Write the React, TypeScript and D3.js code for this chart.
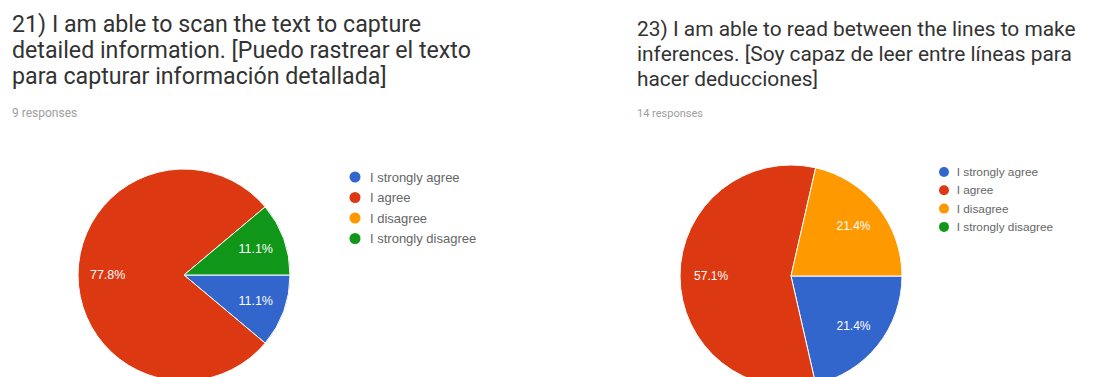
import React from "react";
import * as d3 from "d3";

const categories = ["I strongly agree", "I agree", "I disagree", "I strongly disagree"];
const colors = ["#3366cc", "#dc3912", "#ff9900", "#109618"];

const q21Title = [
  "21) I am able to scan the text to capture",
  "detailed information. [Puedo rastrear el texto",
  "para capturar información detallada]",
];
const q21Responses = "9 responses";
const q21Values = [1, 7, 0, 1];

const q23Title = [
  "23) I am able to read between the lines to make",
  "inferences. [Soy capaz de leer entre líneas para",
  "hacer deducciones]",
];
const q23Responses = "14 responses";
const q23Values = [3, 8, 3, 0];

type PanelProps = {
  title: string[];
  responses: string;
  values: number[];
  tx: number;
  ty: number;
  tfont: number;
  lineH: number;
  respY: number;
  rfont: number;
  cx: number;
  cy: number;
  r: number;
  pfont: number;
  lx: number;
  ly: number;
  lstep: number;
  lfont: number;
  lgap: number;
  lr: number;
};

function Panel(p: PanelProps) {
  const total = d3.sum(p.values);
  const pie = d3
    .pie<number>()
    .sort(null)
    .value((d) => d)
    .startAngle(Math.PI / 2)
    .endAngle(Math.PI / 2 + 2 * Math.PI);
  const arcs = pie(p.values);
  const arc = d3.arc<d3.PieArcDatum<number>>().innerRadius(0).outerRadius(p.r);
  const labelArc = d3
    .arc<d3.PieArcDatum<number>>()
    .innerRadius(p.r * 0.72)
    .outerRadius(p.r * 0.72);
  const fmt = d3.format(".1f");
  return (
    <g>
      {p.title.map((t, i) => (
        <text
          key={i}
          x={p.tx}
          y={p.ty + i * p.lineH}
          fontFamily="Roboto, Arial, sans-serif"
          fontSize={p.tfont}
          fill="#333"
        >
          {t}
        </text>
      ))}
      <text x={p.tx} y={p.respY} fontFamily="Roboto, Arial, sans-serif" fontSize={p.rfont} fill="#9e9e9e">
        {p.responses}
      </text>
      <g transform={`translate(${p.cx},${p.cy})`}>
        {arcs.map((a, i) =>
          a.value > 0 ? (
            <path key={i} d={arc(a) as string} fill={colors[i]} stroke="#fff" strokeWidth={1} />
          ) : null
        )}
        {arcs.map((a, i) => {
          if (a.value <= 0) return null;
          const [x, y] = labelArc.centroid(a);
          return (
            <text
              key={"l" + i}
              x={x}
              y={y}
              dy="0.35em"
              textAnchor="middle"
              fontFamily="Arial, 'Liberation Sans', sans-serif"
              fontSize={p.pfont}
              fill="#fff"
            >
              {fmt((a.value / total) * 100) + "%"}
            </text>
          );
        })}
      </g>
      {categories.map((c, i) => (
        <g key={c} transform={`translate(${p.lx},${p.ly + i * p.lstep})`}>
          <circle cx={0} cy={0} r={p.lr} fill={colors[i]} />
          <text
            x={p.lgap}
            y={0}
            dy="0.35em"
            fontFamily="Arial, 'Liberation Sans', sans-serif"
            fontSize={p.lfont}
            fill="#666"
          >
            {c}
          </text>
        </g>
      ))}
    </g>
  );
}

export default function App() {
  return (
    <svg
      width={1094}
      height={377}
      style={{ position: "absolute", left: 0, top: 0, background: "#fff" }}
    >
      <rect width={1094} height={377} fill="#fff" />
      <Panel
        title={q21Title}
        responses={q21Responses}
        values={q21Values}
        tx={12}
        ty={32}
        tfont={23.2}
        lineH={26}
        respY={117}
        rfont={12}
        cx={184}
        cy={275}
        r={106}
        pfont={12.5}
        lx={355}
        ly={177}
        lstep={20.5}
        lfont={13}
        lgap={15}
        lr={5.5}
      />
      <Panel
        title={q23Title}
        responses={q23Responses}
        values={q23Values}
        tx={637}
        ty={36}
        tfont={20.9}
        lineH={25}
        respY={117}
        rfont={11}
        cx={791}
        cy={276}
        r={111}
        pfont={12}
        lx={944}
        ly={172}
        lstep={18.3}
        lfont={11.8}
        lgap={12.7}
        lr={5}
      />
    </svg>
  );
}
